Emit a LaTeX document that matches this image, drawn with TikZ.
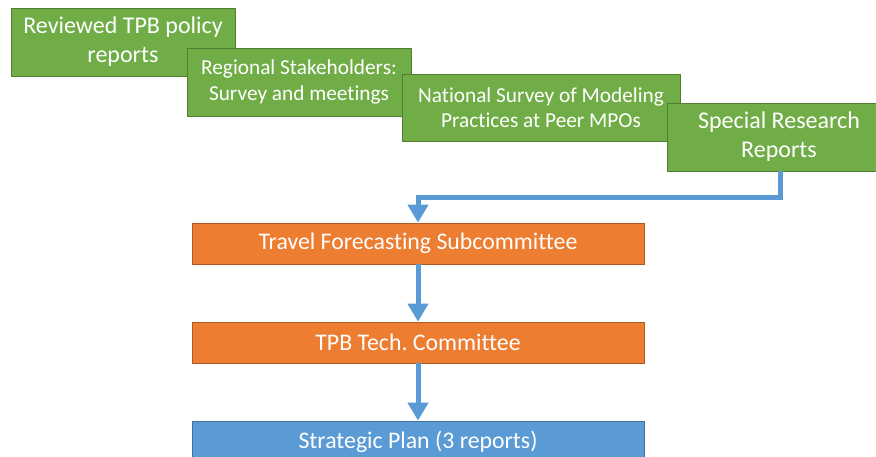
\documentclass[tikz,border=0pt]{standalone}
\usepackage{fontspec}
\setmainfont{Carlito}[Ligatures=NoCommon]
\frenchspacing
\usetikzlibrary{positioning,arrows.meta}
\definecolor{grn}{HTML}{70AD47}
\definecolor{grnline}{HTML}{507E32}
\definecolor{org}{HTML}{ED7D31}
\definecolor{orgline}{HTML}{AE5A21}
\definecolor{blu}{HTML}{5B9BD5}
\definecolor{bluline}{HTML}{41719C}
\tikzstyle{G} = [rectangle,
			draw=grnline, fill=grn, text=white,
			minimum width=224pt, minimum height=68pt,
			align=center, inner sep=0pt, line width=0.8pt,
			font=\fontsize{21.3}{25.5}\selectfont]
\tikzstyle{O} = [rectangle,
			draw=orgline, fill=org, text=white,
			minimum width=452pt, minimum height=41pt,
			inner sep=0pt, line width=0.8pt,
			font=\fontsize{23.8}{28}\selectfont]
\tikzstyle{B} = [O, draw=bluline, fill=blu]
\tikzstyle{L} = [draw=blu, line width=5pt, -{Triangle[width=20pt,length=18pt]}]

\begin{document}
\begin{tikzpicture}[x=1pt, y=-1pt, node distance=99pt, on grid]
\useasboundingbox (0,0) rectangle (876,456);

\node [G, font=\fontsize{24}{29}\selectfont] at (123,42)
(tpb)
	{Reviewed TPB policy\\reports};

\node [G] at (299,82)
(reg)
	{Regional Stakeholders:\\Survey and meetings};

\node [G, minimum width=278pt, minimum height=67pt] at (541,107.5)
(nat)
	{National Survey of Modeling\\Practices at Peer MPOs};

\node [G, font=\fontsize{24}{29}\selectfont] at (779,137)
(srr)
	{Special Research\\Reports};

\node [O] at (418,243.5)
(tfs)
	{Travel Forecasting Subcommittee};

\node [O, below of =tfs]
(tec)
	{TPB Tech. Committee};

\node [B, below of =tec]
(plan)
	{Strategic Plan (3 reports)};
\coordinate (turn) at (780,197);

\path[L] (srr.south -| turn) -- (turn) -| (tfs.north);

\path[L] (tfs) -- (tec);

\path[L] (tec) -- (plan);

\end{tikzpicture}
\end{document}
